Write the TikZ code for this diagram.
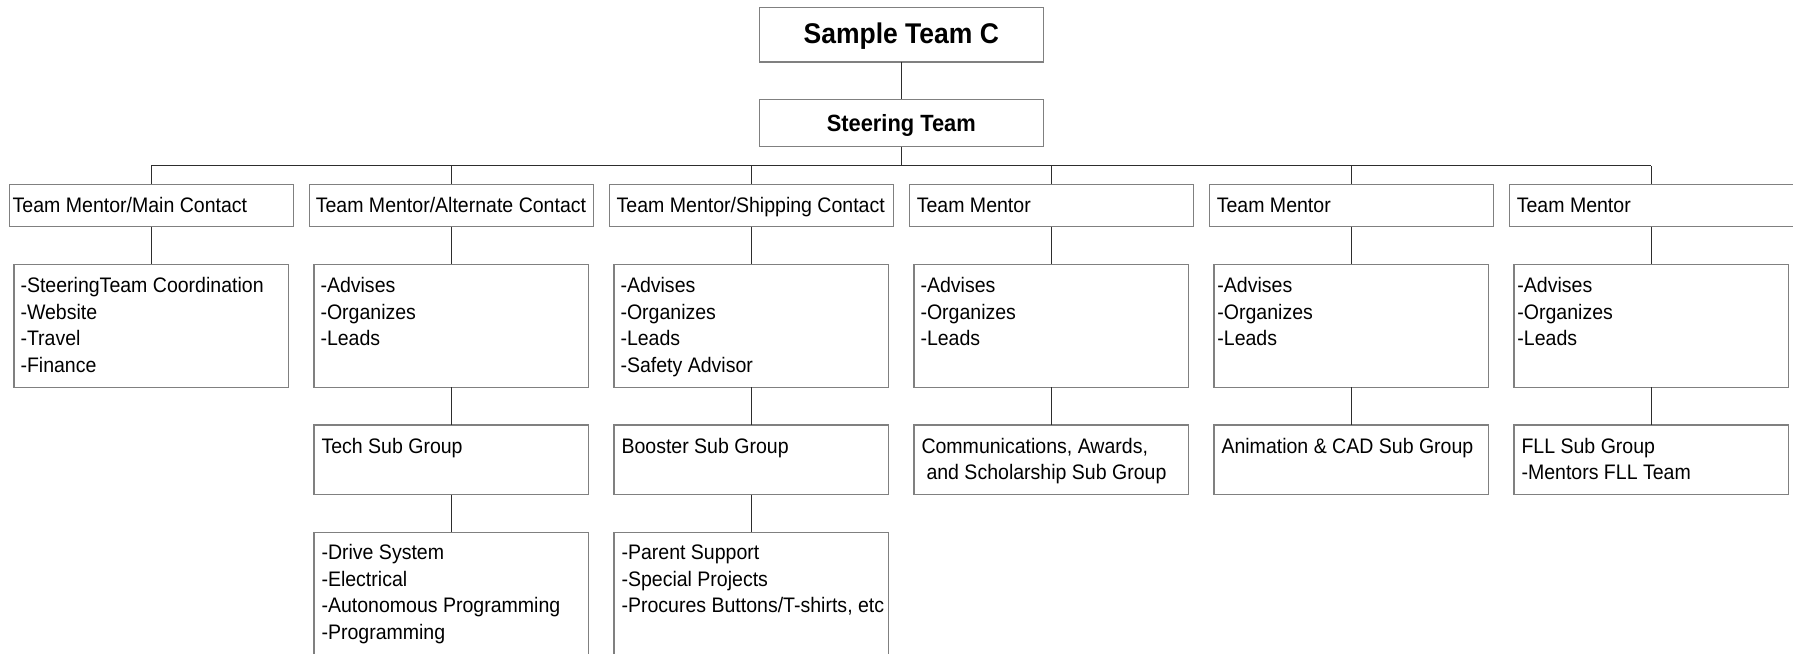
\documentclass[tikz,border=0pt]{standalone}
\usepackage{fontspec}
\setmainfont{Liberation Sans}[FakeStretch=0.93]
\definecolor{boxgray}{RGB}{128,128,128}
\definecolor{linegray}{RGB}{45,45,45}
\newcommand{\regfont}{\fontsize{21}{26.7}\selectfont}
\newcommand{\sfirst}{\rule{0pt}{20pt}}
\tikzset{
  bx/.style={draw=boxgray, line width=1.3pt, inner sep=0pt, outer sep=0pt},
  lvl/.style={bx, minimum width=284pt, minimum height=42.4pt},
  dsc/.style={bx, minimum width=274.4pt, minimum height=123pt},
  subbox/.style={bx, minimum width=274.4pt, minimum height=69.5pt},
  thd/.style={bx, minimum width=274.4pt, minimum height=150pt},
  txt/.style={inner sep=0pt, outer sep=0pt, anchor=north west, align=left, font=\regfont},
  conn/.style={draw=linegray, line width=1.3pt}
}
\begin{document}
\begin{tikzpicture}[x=1pt,y=-1pt]
\useasboundingbox (0,0) rectangle (1793,653);
\clip (0,0) rectangle (1793,653);
\fill[white] (0,0) rectangle (1793,653);
% top boxes
\node[bx, minimum width=284pt, minimum height=54.7pt] (T) at (901.3,34.65) {};
\node[anchor=base, inner sep=0pt, font=\fontsize{28.5}{30}\selectfont\bfseries] (Tt) at (901.3,43.3) {Sample Team C};
\node[bx, minimum width=284pt, minimum height=47.4pt] (S) at (901.3,123) {};
\node[anchor=base, inner sep=0pt, font=\fontsize{23.5}{26}\selectfont\bfseries] (St) at (901.3,131.7) {Steering Team};
% level boxes
\node[lvl] (L1) at (151.3,205.5) {};
\node[lvl] (L2) at (451.3,205.5) {};
\node[lvl] (L3) at (751.3,205.5) {};
\node[lvl] (L4) at (1051.3,205.5) {};
\node[lvl] (L5) at (1351.3,205.5) {};
\node[lvl] (L6) at (1651.3,205.5) {};
\node[txt] (L1t) at ([shift={(3.4,8.4)}]L1.north west) {\sfirst Team Mentor/Main Contact};
\node[txt] (L2t) at ([shift={(6.5,8.4)}]L2.north west) {\sfirst Team Mentor/Alternate Contact};
\node[txt] (L3t) at ([shift={(7.4,8.4)}]L3.north west) {\sfirst Team Mentor/Shipping Contact};
\node[txt] (L4t) at ([shift={(7.5,8.4)}]L4.north west) {\sfirst Team Mentor};
\node[txt] (L5t) at ([shift={(7.5,8.4)}]L5.north west) {\sfirst Team Mentor};
\node[txt] (L6t) at ([shift={(7.5,8.4)}]L6.north west) {\sfirst Team Mentor};
% description boxes
\node[dsc] (D1) at (151.3,325.8) {};
\node[dsc] (D2) at (451.3,325.8) {};
\node[dsc] (D3) at (751.3,325.8) {};
\node[dsc] (D4) at (1051.3,325.8) {};
\node[dsc] (D5) at (1351.3,325.8) {};
\node[dsc] (D6) at (1651.3,325.8) {};
\node[txt] (D1t) at ([shift={(6.4,8)}]D1.north west) {\sfirst-SteeringTeam Coordination\\-Website\\-Travel\\-Finance};
\node[txt] (D2t) at ([shift={(6.4,8)}]D2.north west) {\sfirst-Advises\\-Organizes\\-Leads};
\node[txt] (D3t) at ([shift={(6.4,8)}]D3.north west) {\sfirst-Advises\\-Organizes\\-Leads\\-Safety Advisor};
\node[txt] (D4t) at ([shift={(6.4,8)}]D4.north west) {\sfirst-Advises\\-Organizes\\-Leads};
\node[txt] (D5t) at ([shift={(3.3,8)}]D5.north west) {\sfirst-Advises\\-Organizes\\-Leads};
\node[txt] (D6t) at ([shift={(3.3,8)}]D6.north west) {\sfirst-Advises\\-Organizes\\-Leads};
% sub group boxes
\node[subbox] (G2) at (451.3,459.75) {};
\node[subbox] (G3) at (751.3,459.75) {};
\node[subbox] (G4) at (1051.3,459.75) {};
\node[subbox] (G5) at (1351.3,459.75) {};
\node[subbox] (G6) at (1651.3,459.75) {};
\node[txt] (G2t) at ([shift={(7.4,8)}]G2.north west) {\sfirst Tech Sub Group};
\node[txt] (G3t) at ([shift={(7.4,8)}]G3.north west) {\sfirst Booster Sub Group};
\node[txt] (G4t) at ([shift={(7.4,8)}]G4.north west) {\sfirst Communications, Awards,\\\hspace*{5pt}and Scholarship Sub Group};
\node[txt] (G5t) at ([shift={(7.4,8)}]G5.north west) {\sfirst Animation \& CAD Sub Group};
\node[txt] (G6t) at ([shift={(7.4,8)}]G6.north west) {\sfirst FLL Sub Group\\-Mentors FLL Team};
% third-level boxes
\node[thd] (H2) at (451.3,607.3) {};
\node[thd] (H3) at (751.3,607.3) {};
\node[txt] (H2t) at ([shift={(7.4,7)}]H2.north west) {\sfirst-Drive System\\-Electrical\\-Autonomous Programming\\-Programming};
\node[txt] (H3t) at ([shift={(7.4,7)}]H3.north west) {\sfirst-Parent Support\\-Special Projects\\-Procures Buttons/T-shirts, etc};
% connectors
\coordinate (busL) at (151.3,165.7);
\coordinate (busR) at (1651.3,165.7);
\draw[conn] (T.south) -- (S.north);
\draw[conn] (S.south) -- (S.south |- busL);
\draw[conn] (busL) -- (busR);
\foreach \k in {1,...,6}{
  \draw[conn] (L\k.north) -- (L\k.north |- busL);
  \draw[conn] (L\k.south) -- (D\k.north);
}
\foreach \k in {2,...,6}{
  \draw[conn] (D\k.south) -- (G\k.north);
}
\draw[conn] (G2.south) -- (H2.north);
\draw[conn] (G3.south) -- (H3.north);
\end{tikzpicture}
\end{document}
